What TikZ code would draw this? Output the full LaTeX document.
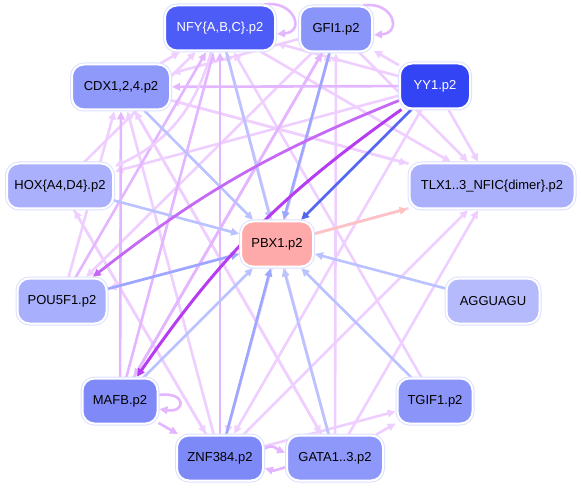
\documentclass[tikz,border=0pt]{standalone}
\usepackage{fontspec}
\setmainfont{Liberation Sans}
\usetikzlibrary{arrows.meta,backgrounds,calc}
\definecolor{ringc}{HTML}{DCDFFF}
\definecolor{lavA}{HTML}{EFCFFF}
\definecolor{lavB}{HTML}{E4B6FF}
\definecolor{lblue}{HTML}{BAC2FF}
\definecolor{mblue}{HTML}{9CA7FF}
\definecolor{dblue}{HTML}{5566EE}
\definecolor{purpA}{HTML}{B53CF0}
\definecolor{purpB}{HTML}{C468F5}
\definecolor{pinkE}{HTML}{FFC2C2}
\definecolor{cNFY}{HTML}{4D5BF7}
\definecolor{cGFI}{HTML}{8A95FA}
\definecolor{cCDX}{HTML}{8F99FA}
\definecolor{cYY}{HTML}{3344F5}
\definecolor{cHOX}{HTML}{AAB0FC}
\definecolor{cTLX}{HTML}{AAB0FC}
\definecolor{cPBX}{HTML}{FFAAAA}
\definecolor{cPOU}{HTML}{A8AFFC}
\definecolor{cAGG}{HTML}{B5BAFC}
\definecolor{cMAFB}{HTML}{7F8AF8}
\definecolor{cTGIF}{HTML}{8A94F9}
\definecolor{cZNF}{HTML}{7E89F8}
\definecolor{cGATA}{HTML}{8E98FA}
\begin{document}
\begin{tikzpicture}[x=1pt,y=-1pt,
  box/.style={rounded corners=12pt, draw=white, line width=2pt,
    preaction={draw=ringc,line width=4pt},
    minimum height=45pt, inner sep=2pt, font=\fontsize{13}{15}\selectfont},
  edge/.style={line width=2.6pt, -{Triangle[length=8pt,width=7.5pt]}, shorten >=1pt},
  lav/.style={edge, draw=lavA},
  lavs/.style={edge, draw=lavB},
  lb/.style={edge, draw=lblue},
  mb/.style={edge, draw=mblue},
  db/.style={edge, draw=dblue},
  pa/.style={edge, draw=purpA, line width=3pt},
  pb/.style={edge, draw=purpB, line width=2.8pt},
  pk/.style={edge, draw=pinkE}]
\useasboundingbox (0,0) rectangle (581,489);
\node[box, fill=cNFY, text=white, minimum width=110pt] (nfy) at (220,28) {NFY\{A,B,C\}.p2};
\node[box, fill=cGFI, minimum width=72pt] (gfi) at (336,29) {GFI1.p2};
\node[box, fill=cCDX, minimum width=98pt] (cdx) at (121,87) {CDX1,2,4.p2};
\node[box, fill=cYY, text=white, minimum width=70pt] (yy1) at (435,86) {YY1.p2};
\node[box, fill=cHOX, minimum width=106pt] (hox) at (60,186) {HOX\{A4,D4\}.p2};
\node[box, fill=cTLX, minimum width=165pt] (tlx) at (492,186) {TLX1..3\_NFIC\{dimer\}.p2};
\node[box, fill=cPBX, minimum width=72pt] (pbx) at (277,244) {PBX1.p2};
\node[box, fill=cPOU, minimum width=89pt] (pou) at (62,301) {POU5F1.p2};
\node[box, fill=cAGG, minimum width=93pt] (agg) at (493,301) {AGGUAGU};
\node[box, fill=cMAFB, minimum width=75pt] (mafb) at (120,401) {MAFB.p2};
\node[box, fill=cTGIF, minimum width=75pt] (tgif) at (435,401) {TGIF1.p2};
\node[box, fill=cZNF, minimum width=86pt] (znf) at (220,458) {ZNF384.p2};
\node[box, fill=cGATA, minimum width=96pt] (gata) at (335,458) {GATA1..3.p2};
\begin{pgfonlayer}{background}
\foreach \a/\b in {znf/cdx, znf/gfi, znf/tlx, znf/hox, znf/tgif,
  gata/nfy, gata/cdx, gata/gfi, gata/tlx, gata/tgif,
  pou/cdx, hox/nfy, tlx/cdx, yy1/gfi, yy1/nfy, yy1/tlx, yy1/hox, yy1/znf,
  gfi/cdx, gfi/tlx, gfi/pou, nfy/tlx, tgif/nfy, cdx/gata, hox/znf,
  gfi/znf, cdx/nfy, cdx/tlx, tlx/pou}
  \draw[lav] (\a) -- (\b);
\foreach \a/\b in {mafb/nfy, mafb/cdx, mafb/gfi, znf/nfy, pou/nfy, yy1/cdx, gfi/mafb, mafb/znf}
  \draw[lavs] (\a) -- (\b);
\draw[lav] (nfy) to[bend left=25] (hox);
\draw[lavs] ($(znf.east)+(0,-9)$) .. controls +(10,-6) and +(-10,-4) .. ($(gata.west)+(0,-5)$);
\draw[lavs] ($(gata.west)+(0,9)$) .. controls +(-10,3) and +(10,3) .. ($(znf.east)+(0,10)$);
\draw[lavs] ($(nfy.north east)+(-12,0)$) .. controls +(30,-5) and +(30,-2) .. ($(nfy.east)+(0,6)$);
\draw[lavs] ($(gfi.north east)+(-10,0)$) .. controls +(30,-5) and +(30,-2) .. ($(gfi.east)+(0,6)$);
\draw[lavs] ($(mafb.east)+(0,-6)$) .. controls +(28,-4) and +(28,4) .. ($(mafb.east)+(0,8)$);
\foreach \a in {nfy, cdx, hox, agg, tgif, gata, mafb}
  \draw[lb] (\a) -- (pbx);
\foreach \a in {gfi, pou, znf}
  \draw[mb] (\a) -- (pbx);
\draw[db] (yy1) -- (pbx);
\draw[pk] (pbx) -- (tlx);
\draw[pb] (yy1) to[bend right=8] (pou);
\draw[pa] (yy1) to[bend right=10] (mafb);
\end{pgfonlayer}
\end{tikzpicture}
\end{document}
